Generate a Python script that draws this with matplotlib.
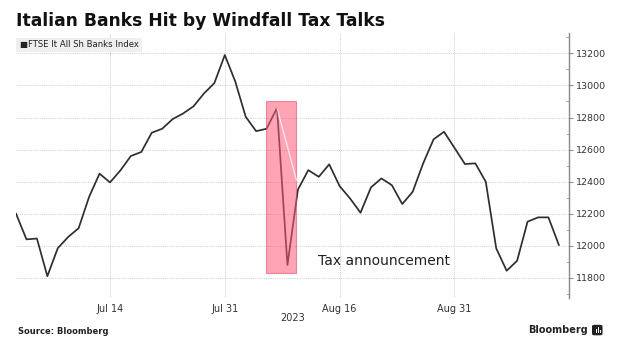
import numpy as np
import matplotlib
matplotlib.use("Agg")
import matplotlib.pyplot as plt
from matplotlib.patches import Rectangle, FancyBboxPatch

# trading days (Borsa closed on Aug 15)
dates = ["Jul 3", "Jul 4", "Jul 5", "Jul 6", "Jul 7", "Jul 10", "Jul 11", "Jul 12",
         "Jul 13", "Jul 14", "Jul 17", "Jul 18", "Jul 19", "Jul 20", "Jul 21",
         "Jul 24", "Jul 25", "Jul 26", "Jul 27", "Jul 28", "Jul 31",
         "Aug 1", "Aug 2", "Aug 3", "Aug 4", "Aug 7", "Aug 8", "Aug 9", "Aug 10",
         "Aug 11", "Aug 14", "Aug 16", "Aug 17", "Aug 18", "Aug 21", "Aug 22",
         "Aug 23", "Aug 24", "Aug 25", "Aug 28", "Aug 29", "Aug 30", "Aug 31",
         "Sep 1", "Sep 4", "Sep 5", "Sep 6", "Sep 7", "Sep 8", "Sep 11",
         "Sep 12", "Sep 13", "Sep 14"]
index_level = [12200, 12040, 12045, 11810, 11985, 12055, 12110, 12305, 12450,
               12395, 12470, 12560, 12585, 12705, 12730, 12790, 12825, 12870,
               12950, 13015, 13190, 13025, 12805, 12715, 12730, 12860, 11880,
               12350, 12472, 12430, 12508, 12372, 12295, 12206, 12364, 12420,
               12378, 12260, 12337, 12514, 12664, 12711, 12611, 12510, 12514,
               12399, 11984, 11844, 11906, 12150, 12177, 12177, 12005]
tick_dates = ["Jul 14", "Jul 31", "Aug 16", "Aug 31"]
y_ticks = [11800, 12000, 12200, 12400, 12600, 12800, 13000, 13200]

x = np.arange(len(dates))
tick_pos = [dates.index(d) for d in tick_dates]

fig = plt.figure(figsize=(6.19, 3.48), dpi=100)
ax = fig.add_axes([0.0259, 0.1437, 0.8938, 0.7613])

ax.plot(x, index_level, color="#2e2e2e", lw=1.25, zorder=3)

# highlight around the announcement
ax.add_patch(Rectangle((23.9, 11831), 2.96, 1073, facecolor="#ff5a78",
                       edgecolor="#e04060", lw=0.8, alpha=0.55, zorder=4))
ax.plot([25, 26.86], [12860, 12410], color="white", lw=0.9, alpha=0.75, zorder=5)
ax.text(28.9, 11879, "Tax announcement", fontsize=10, color="#222222",
        va="baseline", ha="left", zorder=6)

ax.set_xlim(0, 53.0)
ax.set_ylim(11674, 13327)

ax.set_xticks(tick_pos)
ax.set_xticklabels(tick_dates)
ax.set_yticks(y_ticks)
ax.set_yticks(np.arange(11700, 13301, 100), minor=True)
ax.yaxis.tick_right()
ax.tick_params(axis="x", length=0, pad=4, labelsize=7, labelcolor="#333333")
ax.tick_params(axis="y", which="major", direction="out", length=3, width=0.8,
               color="#888888", pad=2, labelsize=6.8, labelcolor="#333333")
ax.tick_params(axis="y", which="minor", direction="in", length=2, width=0.6,
               color="#999999")
ax.grid(True, which="major", color="#c4c4c4", lw=0.6, ls=(0, (1, 1.2)))
ax.set_axisbelow(True)

for s in ["top", "left", "bottom"]:
    ax.spines[s].set_visible(False)
ax.spines["right"].set_color("#888888")
ax.spines["right"].set_linewidth(1.0)

ax.text(0.5, -0.0755, "2023", transform=ax.transAxes, ha="center", va="center",
        fontsize=7, color="#333333")

fig.text(16 / 619, 1 - 26 / 348, "Italian Banks Hit by Windfall Tax Talks",
         fontsize=12.35, fontweight="bold", color="#111111", va="baseline")

# legend tag
fig.patches.append(Rectangle((16 / 619, 1 - 52.3 / 348), 125.7 / 619, 14.6 / 348,
                             transform=fig.transFigure, facecolor="#efefef",
                             edgecolor="none", zorder=5))
fig.text(20.5 / 619, 1 - 45 / 348, "■FTSE It All Sh Banks Index", fontsize=6.1,
         color="#222222", va="center", zorder=6)

fig.text(18 / 619, 1 - 331 / 348, "Source: Bloomberg", fontsize=6,
         fontweight="bold", color="#222222", va="center")
fig.text(588 / 619, 1 - 330 / 348, "Bloomberg", fontsize=7, fontweight="bold",
         color="#222222", va="center", ha="right")
fig.patches.append(FancyBboxPatch((592 / 619, 1 - 335.3 / 348), 10.5 / 619, 10.5 / 348,
                                  boxstyle="round,pad=0,rounding_size=0.004",
                                  transform=fig.transFigure, facecolor="#222222",
                                  edgecolor="none"))
for bx, bh in [(595.5, 4.5), (597.5, 6.5), (599.5, 3.5)]:
    fig.patches.append(Rectangle((bx / 619, 1 - 333 / 348), 1.0 / 619, bh / 348,
                                 transform=fig.transFigure, facecolor="white",
                                 edgecolor="none"))

fig.savefig("out.png", dpi=100, facecolor="white")
